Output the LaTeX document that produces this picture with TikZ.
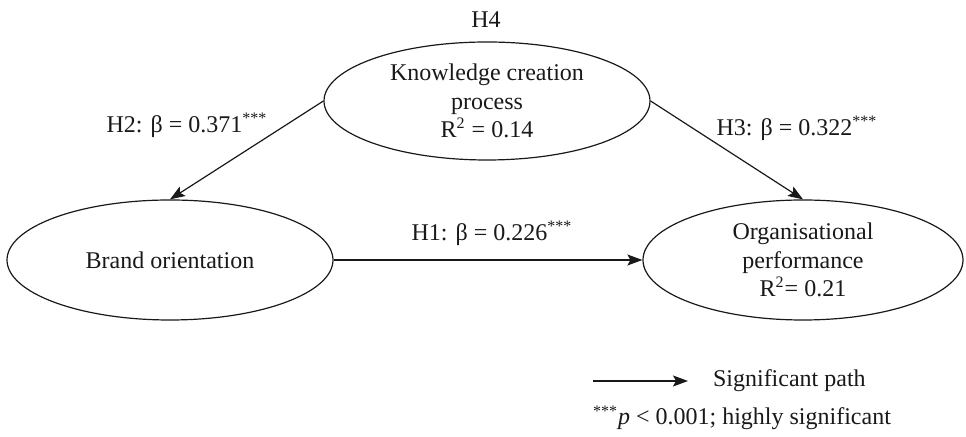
\documentclass[tikz,border=0pt]{standalone}
\usepackage{fontspec}
\setmainfont{Liberation Serif}
\usepackage{tikz}
\usetikzlibrary{arrows.meta, positioning, shapes.geometric}

\begin{document}
\begin{tikzpicture}[
    x=0.5pt, y=-0.5pt,
    path/.style={-{Stealth[length=7.5pt,width=5.5pt,inset=1.5pt]},line width=0.6pt,black!90},
    construct/.style={ellipse,draw=black!90,line width=0.6pt,inner sep=0pt,align=center,
        font=\fontsize{12}{14.2}\selectfont,text=black!90},
    coef/.style={font=\fontsize{12}{14.2}\selectfont,text=black!90,inner sep=2pt},
    legend/.style={font=\fontsize{12}{14.2}\selectfont,text=black!90}
]
\useasboundingbox (0,0) rectangle (966,437);

%--------------------------------------------------------------------
% Constructs
%--------------------------------------------------------------------
\node[construct,minimum width=163pt,minimum height=59pt] (kcp) at (487,101)
    {Knowledge creation\\process\\R\textsuperscript{2} = 0.14};
\node[construct,minimum width=163pt,minimum height=60pt] (bo) at (170,260)
    {Brand orientation};
\node[construct,minimum width=160pt,minimum height=60pt] (op) at (803,260)
    {Organisational\\performance\\R\textsuperscript{2}= 0.21};

\node[coef] (h4) at (486,20) {H4};

%--------------------------------------------------------------------
% Paths
%--------------------------------------------------------------------
\draw[path] (kcp.west) -- (bo.north);
\draw[path] (kcp.east) -- (op.north);
\draw[path] (bo.east) -- (op.west)
    node[coef,midway,above=5pt,xshift=2pt] {H1: β = 0.226\textsuperscript{***}};

\node[coef] (h2) at (187,125) {H2: β = 0.371\textsuperscript{***}};
\node[coef] (h3) at (797,128) {H3: β = 0.322\textsuperscript{***}};

%--------------------------------------------------------------------
% Legend
%--------------------------------------------------------------------
\node[legend,anchor=west] (sigtext) at (706,381) {Significant path};
\coordinate (sigstart) at (593,381);
\draw[path,shorten >=9pt] (sigstart) -- (sigtext.west |- sigstart);

\node[legend,anchor=west] (note) at (586,418)
    {\textsuperscript{***}\textit{p} < 0.001; highly significant};

\end{tikzpicture}
\end{document}
